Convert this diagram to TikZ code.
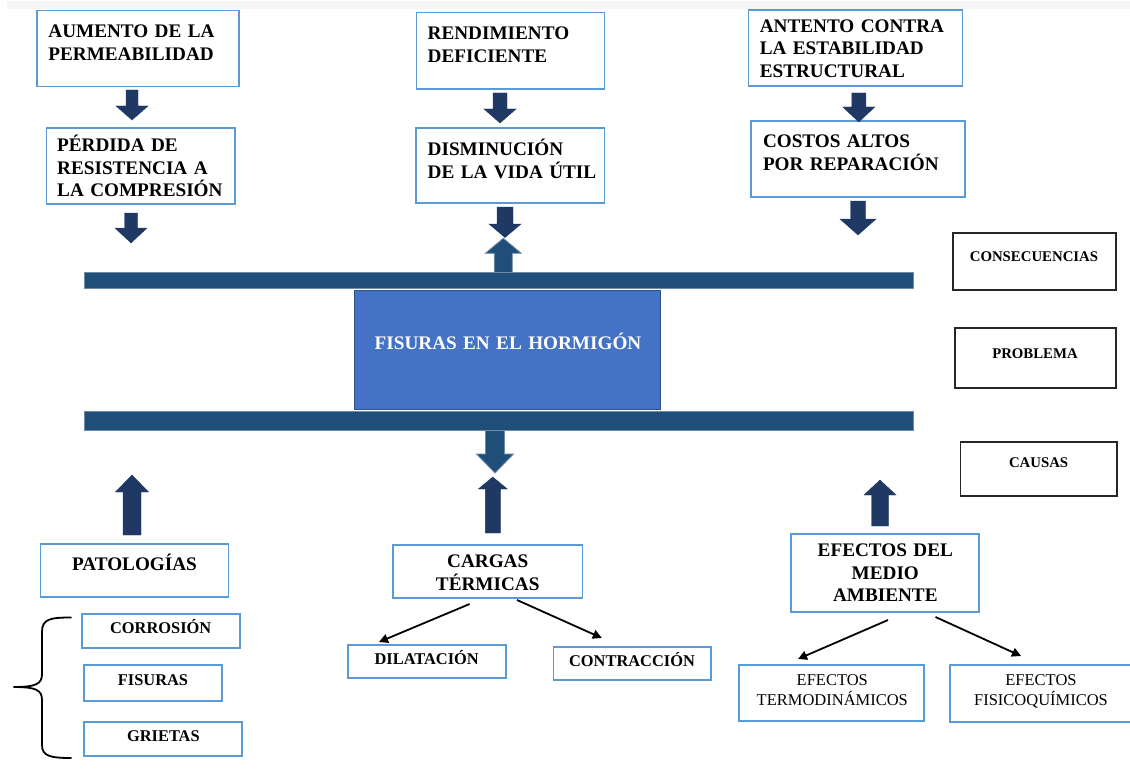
\documentclass[tikz,border=0pt]{standalone}
\usepackage{fontspec}
\setmainfont{Liberation Serif}
\usetikzlibrary{arrows.meta}
\definecolor{boxblue}{HTML}{5B9BD5}
\definecolor{navy}{HTML}{203864}
\definecolor{steel}{HTML}{1F4E79}
\definecolor{mainfill}{HTML}{4472C4}
\definecolor{mainborder}{HTML}{2F528F}
\newcommand\bigf{\fontsize{19.2pt}{22.5pt}\selectfont\bfseries}
\newcommand\midf{\fontsize{16.4pt}{19.3pt}\selectfont\bfseries}
\newcommand\labf{\fontsize{14.8pt}{17pt}\selectfont\bfseries}
\newcommand\regf{\fontsize{16.5pt}{19.3pt}\selectfont}
% color, cx, ystart, yheadbase, ytip, shaft half width, head half width
\newcommand\blkarrow[7]{\filldraw[#1] ({#2-#6},#3) -- ({#2+#6},#3) -- ({#2+#6},#4) -- ({#2+#7},#4) -- (#2,#5) -- ({#2-#7},#4) -- ({#2-#6},#4) -- cycle;}
\begin{document}
\begin{tikzpicture}[x=1pt,y=-1pt,
  bluebox/.style={draw=boxblue,line width=1.4pt,inner sep=0pt},
  blackbox/.style={draw=black!85,line width=1.4pt,inner sep=0pt},
  txtL/.style={anchor=base west,inner sep=0pt,text width=230pt,align=left,font=\bigf},
  txtC/.style={anchor=base,inner sep=0pt,text width=220pt,align=center},
  thinarrow/.style={line width=1.8pt,-{Triangle[length=9pt,width=9pt]}},
  navyarrow/.style={fill=navy,draw=navy,line width=0.4pt},
  steelarrow/.style={fill=steel,draw=steel!65!white,line width=0.8pt},
  bar/.style={fill=steel,draw=steel!65!white,line width=0.8pt}]
\useasboundingbox (0,0) rectangle (1130,773);
\fill[black!4] (7,1) rectangle (1130,9);

% ---------- consequence boxes ----------
\node[bluebox,minimum width=202pt,minimum height=76pt] (aum) at (138,48.7) {};
\node[txtL] (taum) at (48.2,37.7) {AUMENTO DE LA\\PERMEABILIDAD};
\node[bluebox,minimum width=188.6pt,minimum height=76pt] (per) at (140.7,166) {};
\node[txtL] (tper) at (57,151.7) {PÉRDIDA DE\\RESISTENCIA A\\LA COMPRESIÓN};
\node[bluebox,minimum width=188.2pt,minimum height=76.3pt] (ren) at (510.5,50.85) {};
\node[txtL] (tren) at (427.5,39.7) {RENDIMIENTO\\DEFICIENTE};
\node[bluebox,minimum width=188.5pt,minimum height=75pt] (dis) at (510.25,165.5) {};
\node[txtL] (tdis) at (427.5,156) {DISMINUCIÓN\\DE LA VIDA ÚTIL};
\node[bluebox,minimum width=214pt,minimum height=76pt] (ant) at (855.35,48) {};
\node[txtL] (tant) at (759.6,32.3) {ANTENTO CONTRA\\LA ESTABILIDAD\\ESTRUCTURAL};
\node[bluebox,minimum width=214pt,minimum height=76pt] (cos) at (858,159) {};
\node[txtL] (tcos) at (762.8,147.7) {COSTOS ALTOS\\POR REPARACIÓN};

% ---------- side labels ----------
\node[blackbox,minimum width=163pt,minimum height=57pt] (cons) at (1034.5,261.5) {};
\node[txtC,font=\labf] (tcons) at (1034,261.7) {CONSECUENCIAS};
\node[blackbox,minimum width=161pt,minimum height=60pt] (prob) at (1035.5,358) {};
\node[txtC,font=\labf] (tprob) at (1035,358) {PROBLEMA};
\node[blackbox,minimum width=156.4pt,minimum height=54pt] (caus) at (1038.8,469) {};
\node[txtC,font=\labf] (tcaus) at (1038.6,467.7) {CAUSAS};

% ---------- block arrows (consequences) ----------
\blkarrow{navyarrow}{132}{90}{106}{120}{6}{16}
\blkarrow{navyarrow}{131}{213}{228}{243}{6.5}{16}
\blkarrow{navyarrow}{500}{93}{109}{123}{7}{16}
\blkarrow{navyarrow}{505}{207}{224}{237.5}{8}{16}
\blkarrow{navyarrow}{858.8}{93}{107}{122}{7}{16}
\blkarrow{navyarrow}{858}{201}{219}{235}{7.5}{18}

% ---------- bar arrows ----------
\blkarrow{steelarrow}{503.3}{280}{253.3}{238.3}{9}{18}
\blkarrow{steelarrow}{495}{420}{454}{473}{9.5}{18.5}

% ---------- bars and problem ----------
\path[bar] (84.6,272) rectangle (913,288.5);
\path[bar] (84.6,411) rectangle (913,430);
\node[fill=mainfill,draw=mainborder,line width=0.8pt,inner sep=0pt,minimum width=306pt,minimum height=119pt] (main) at (507.55,349.5) {};
\node[txtC,font=\bigf,text=white,text width=300pt] (tmain) at (508,349.3) {FISURAS EN EL HORMIGÓN};

% ---------- block arrows (causes) ----------
\blkarrow{navyarrow}{132}{535}{492}{475}{9}{16.5}
\blkarrow{navyarrow}{492.8}{533}{489}{477}{7.5}{14.5}
\blkarrow{navyarrow}{880}{526}{495}{480}{8.5}{16}

% ---------- causes ----------
\node[bluebox,minimum width=188.2pt,minimum height=53pt] (pat) at (134.5,570.5) {};
\node[txtC,font=\bigf] (tpat) at (134.5,570.7) {PATOLOGÍAS};
\node[bluebox,minimum width=189.5pt,minimum height=53pt] (car) at (487.75,571.5) {};
\node[txtC,font=\bigf,text width=190pt] (tcar) at (487.7,567.3) {CARGAS\\[0.8pt]TÉRMICAS};
\node[bluebox,minimum width=188pt,minimum height=78pt] (med) at (885,573) {};
\node[txtC,font=\bigf,text width=190pt] (tmed) at (885.3,556.7) {EFECTOS DEL\\MEDIO\\AMBIENTE};

\node[bluebox,minimum width=158pt,minimum height=34pt] (corr) at (161,631) {};
\node[txtC,font=\midf] (tcorr) at (160.7,633.3) {CORROSIÓN};
\node[bluebox,minimum width=138pt,minimum height=36pt] (fis) at (153,683) {};
\node[txtC,font=\midf] (tfis) at (153,685.7) {FISURAS};
\node[bluebox,minimum width=158pt,minimum height=34pt] (gri) at (163,739) {};
\node[txtC,font=\midf] (tgri) at (163.4,741) {GRIETAS};

\node[bluebox,minimum width=158pt,minimum height=33pt] (dil) at (427,661.5) {};
\node[txtC,font=\midf] (tdil) at (426.7,664.3) {DILATACIÓN};
\node[bluebox,minimum width=157.4pt,minimum height=33pt] (con) at (632.3,663.5) {};
\node[txtC,font=\midf] (tcon) at (632,666.7) {CONTRACCIÓN};

\node[bluebox,minimum width=185pt,minimum height=56pt] (ter) at (831.5,693) {};
\node[txtC,font=\regf,text width=190pt] (tter) at (832.3,685.7) {EFECTOS\\TERMODINÁMICOS};
\node[bluebox,minimum width=182pt,minimum height=57pt] (fq) at (1041,693.5) {};
\node[txtC,font=\regf,text width=190pt] (tfq) at (1041,685.7) {EFECTOS\\FISICOQUÍMICOS};

% ---------- thin arrows ----------
\coordinate (c1) at (469.6,604);
\coordinate (c1e) at (379,642);
\coordinate (c2) at (517,600);
\coordinate (c2e) at (601.8,638);
\coordinate (m1) at (888,620);
\coordinate (m1e) at (798,659);
\coordinate (m2) at (935.5,617);
\coordinate (m2e) at (1021,656);
\draw[thinarrow] (c1) -- (c1e);
\draw[thinarrow] (c2) -- (c2e);
\draw[thinarrow] (m1) -- (m1e);
\draw[thinarrow] (m2) -- (m2e);

% ---------- brace ----------
\draw[line width=1.8pt] (71.5,617.5) .. controls (50,617.5) and (42,619) .. (42,632)
  -- (42,674) .. controls (42,684) and (36,687) .. (13.5,687)
  .. controls (36,687) and (42,690) .. (42,700)
  -- (42,745) .. controls (42,756) and (50,758) .. (71.5,758);
\end{tikzpicture}
\end{document}
